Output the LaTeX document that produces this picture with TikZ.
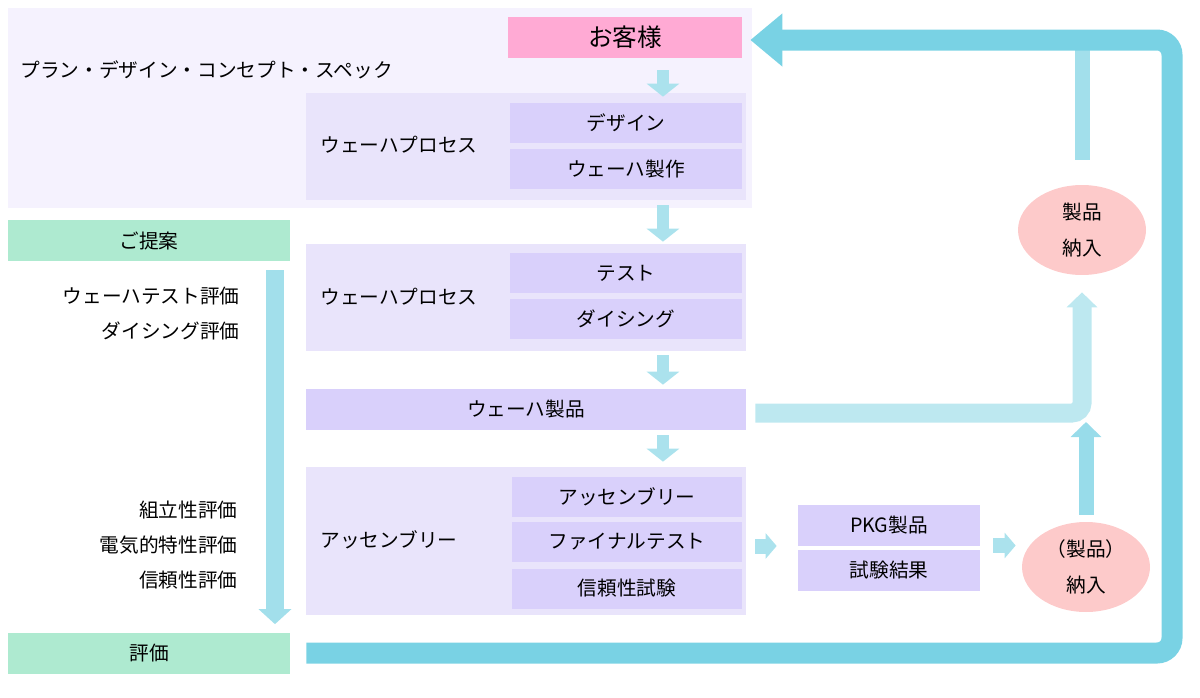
\documentclass[tikz,border=0pt]{standalone}
\usepackage{fontspec}
\setmainfont{Noto Sans CJK JP}
\usetikzlibrary{positioning,arrows.meta,shapes.geometric}

\definecolor{areaC}{HTML}{F5F2FE}
\definecolor{grpC}{HTML}{E9E4FB}
\definecolor{subC}{HTML}{D9D0FB}
\definecolor{custC}{HTML}{FFAAD4}
\definecolor{mintC}{HTML}{AEEAD0}
\definecolor{ellC}{HTML}{FDCACA}
\definecolor{darkA}{HTML}{62CBE0}
\definecolor{lightA}{HTML}{BDE8F0}

\begin{document}
\begin{tikzpicture}[
  x=0.02cm, y=-0.02cm,
  font=\fontsize{11.2}{13}\selectfont,
  area/.style={fill=areaC, inner sep=0pt, minimum width=14.88cm, minimum height=4cm},
  grp/.style={fill=grpC, inner sep=0pt, minimum width=8.8cm},
  sub/.style={fill=subC, inner sep=0pt, minimum width=4.64cm, minimum height=0.8cm},
  lbl/.style={inner sep=0pt, anchor=west},
  eval/.style={inner sep=0pt, anchor=east},
  mint/.style={fill=mintC, inner sep=0pt, minimum width=5.64cm, minimum height=0.82cm},
  ell/.style={ellipse, fill=ellC, inner sep=0pt, minimum width=2.56cm, minimum height=1.8cm, align=center},
  dn/.style={-{Triangle[width=0.64cm,length=0.26cm]}, line width=0.24cm, lightA!80!darkA},
  side/.style={-{Triangle[width=0.5cm,length=0.22cm]}, line width=0.3cm, lightA!80!darkA},
  upa/.style={-{Triangle[width=0.6cm,length=0.3cm]}, line width=0.3cm, lightA!60!darkA},
  bar/.style={line width=0.3cm, lightA!70!darkA},
  back/.style={-{Triangle[width=1.02cm,length=0.64cm]}, line width=0.42cm, darkA!75!lightA, rounded corners=0.3cm}
]
\useasboundingbox (0,0) rectangle (1200,697);

% planning area
\node[area] (plan) at (380,108) {};
\node[lbl] (planT) at (20,70) {プラン・デザイン・コンセプト・スペック};
\node[fill=custC, minimum width=4.68cm, minimum height=0.82cm, inner sep=0pt, font=\fontsize{14}{16}\selectfont] (cust) at (625,37.5) {お客様};

% wafer process
\node[grp, minimum height=2.14cm] (wp1) at (526,146.5) {};
\node[lbl] (wp1T) at (320,145) {ウェーハプロセス};
\node[sub] (design) at (626,123) {デザイン};
\node[sub] (fab) at (626,169) {ウェーハ製作};

\node[grp, minimum height=2.14cm] (wp2) at (526,297.5) {};
\node[lbl] (wp2T) at (320,297) {ウェーハプロセス};
\node[sub] (test) at (626,273) {テスト};
\node[sub] (dicing) at (626,318.5) {ダイシング};

\node[grp, minimum height=0.82cm, fill=subC] (wprod) at (526,409.5) {ウェーハ製品};

\node[grp, minimum height=2.96cm] (asm) at (526,541) {};
\node[lbl] (asmT) at (320,540) {アッセンブリー};
\node[sub, minimum width=4.6cm] (asm1) at (627,497) {アッセンブリー};
\node[sub, minimum width=4.6cm] (asm2) at (627,541.5) {ファイナルテスト};
\node[sub, minimum width=4.6cm] (asm3) at (627,588.5) {信頼性試験};

% evaluation column
\node[mint] (teian) at (149,240.5) {ご提案};
\node[mint] (hyoka) at (149,653) {評価};
\node[eval] (ev1) at (240,296) {ウェーハテスト評価};
\node[eval] (ev2) at (240,331) {ダイシング評価};
\node[eval] (ev3) at (238,510) {組立性評価};
\node[eval] (ev4) at (238,545) {電気的特性評価};
\node[eval] (ev5) at (238,580) {信頼性評価};

% package and delivery
\node[sub, minimum width=3.64cm, minimum height=0.82cm] (pkg) at (889,525.5) {PKG製品};
\node[sub, minimum width=3.64cm, minimum height=0.82cm] (shiken) at (889,570.5) {試験結果};
\node[ell] (e1) at (1082,230) {製品\\[1.2ex]納入};
\node[ell] (e2) at (1086,567) {（製品）\\[1.2ex]納入};
\coordinate (j) at (1086,413);

% arrows
\draw[dn, shorten <=0.24cm] ([xshift=0.76cm]cust.south) -- ([xshift=0.76cm, yshift=-0.08cm]cust.south |- wp1.north);
\draw[dn, shorten <=0.1cm, shorten >=0.04cm] ([xshift=2.74cm]wp1.south) -- ([xshift=2.74cm]wp2.north);
\draw[dn, shorten <=0.08cm, shorten >=0.08cm] ([xshift=2.74cm]wp2.south) -- ([xshift=2.74cm]wprod.north);
\draw[dn, shorten <=0.1cm, shorten >=0.1cm] ([xshift=2.74cm]wprod.south) -- ([xshift=2.74cm]asm.north);
\draw[-{Triangle[width=0.64cm,length=0.3cm]}, line width=0.36cm, lightA!70!darkA, shorten <=0.18cm, shorten >=0.16cm]
  ([xshift=2.52cm]teian.south) -- ([xshift=2.52cm]hyoka.north);
\draw[side, shorten <=0.18cm, shorten >=0.42cm] ([yshift=-0.1cm]asm.east) -- ([yshift=-0.1cm]asm.east -| pkg.west);
\draw[side, shorten <=0.26cm, shorten >=0.12cm] ([yshift=-0.4cm]pkg.east) -- ([yshift=-0.4cm]pkg.east -| e2.west);
\draw[upa, shorten <=0.14cm, shorten >=0.18cm] (e2.north) -- (j);
\draw[upa, line width=0.38cm, lightA, rounded corners=0.2cm, shorten <=0.18cm, shorten >=0.34cm]
  ([yshift=-0.07cm]wprod.east) -| (e1.south);
\draw[bar, shorten <=0.5cm] (e1.north) -- ([yshift=-0.2cm]e1.north |- cust.east);
\draw[back, shorten <=0.32cm, shorten >=0.16cm] (hyoka.east) -| (1172,40) -- ([yshift=-0.05cm]cust.east);
\end{tikzpicture}
\end{document}
